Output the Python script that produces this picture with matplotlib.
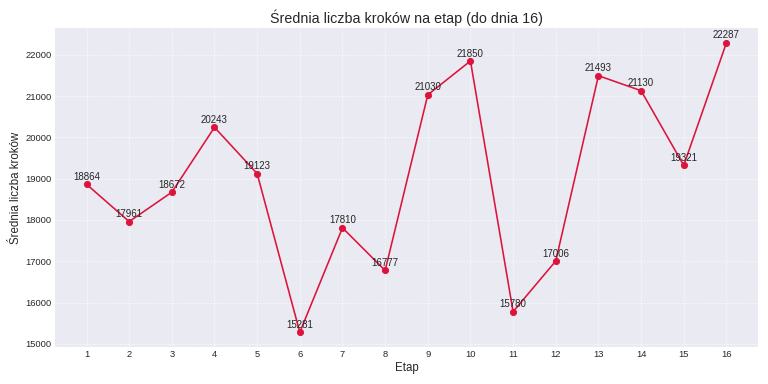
import matplotlib
matplotlib.use("Agg")
import matplotlib.pyplot as plt

# ── Data ──
etapy = list(range(1, 17))
srednia = [18864, 17961, 18672, 20243, 19123, 15281, 17810, 16777,
           21030, 21850, 15780, 17006, 21493, 21130, 19321, 22287]

plt.style.use("seaborn-v0_8-darkgrid")
plt.rcParams["font.family"] = ["Liberation Sans", "DejaVu Sans"]

fig, ax = plt.subplots(figsize=(12, 6), dpi=64)

ax.plot(etapy, srednia, marker="o", color="crimson", linewidth=1.8, markersize=7)

for x, y in zip(etapy, srednia):
    ax.annotate(f"{y}", (x, y), textcoords="offset points", xytext=(0, 5),
                ha="center", fontsize=11)

ax.set_title("Średnia liczba kroków na etap (do dnia 16)", fontsize=16)
ax.set_xlabel("Etap", fontsize=13)
ax.set_ylabel("Średnia liczba kroków", fontsize=13)
ax.set_xticks(etapy)
ax.tick_params(labelsize=10.5)
ax.grid(True, linestyle="--", alpha=0.7)

plt.tight_layout()
fig.savefig("out.png")
